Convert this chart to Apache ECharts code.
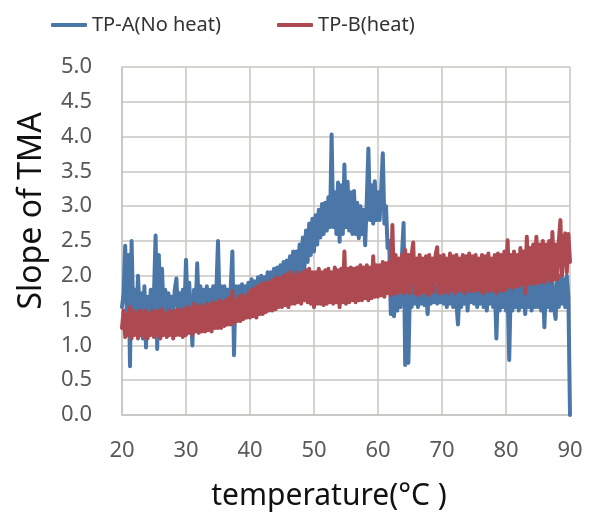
<!DOCTYPE html>
<html>
<head>
<meta charset="utf-8">
<script src="https://cdn.jsdelivr.net/npm/echarts@6/dist/echarts.min.js"></script>
<style>
html,body{margin:0;padding:0;background:#fff;}
#chart{width:592px;height:516px;}
</style>
</head>
<body>
<div id="chart"></div>
<script>
// Temperature sampling of the traces (°C)
var TEMP_START = 20;
var TEMP_STEP = 0.25;

var seriesNames = ['TP-A(No heat)', 'TP-B(heat)'];
var xTicks = [20, 30, 40, 50, 60, 70, 80, 90];
var yTicks = [0.0, 0.5, 1.0, 1.5, 2.0, 2.5, 3.0, 3.5, 4.0, 4.5, 5.0];

// TP-A (No heat) slope values, one row per 5 °C
var slopeA = [
  1.55,1.75,2.43,1.5,2.3,0.7,2.5,1.45,1.8,1.4,2.0,1.5,1.75,1.1,1.85,0.97,1.7,1.45,1.8,1.4,
  1.75,2.58,0.95,2.3,1.5,2.1,1.45,1.8,1.5,1.75,1.45,1.7,1.5,1.8,1.96,1.45,1.75,1.5,1.8,1.45,
  2.23,1.5,1.9,1.45,1.0,1.8,1.5,2.18,1.5,1.85,1.5,1.8,1.5,1.85,1.55,1.8,1.5,1.85,1.55,1.8,
  2.5,1.55,1.85,1.5,1.85,1.55,1.8,1.5,1.85,2.35,0.86,1.85,1.55,1.85,1.6,1.88,1.6,1.85,1.6,1.9,
  1.65,1.95,1.65,1.92,1.7,1.98,1.68,2.0,1.7,1.98,1.72,2.05,1.72,2.05,1.75,2.1,1.75,2.12,1.78,2.15,
  1.8,2.2,1.85,2.22,1.88,2.28,1.9,2.35,1.95,2.35,2.0,2.45,2.05,2.55,2.1,2.65,2.2,2.75,2.3,2.82,
  2.35,2.87,2.45,2.95,2.55,3.03,2.6,3.05,2.65,3.13,2.7,4.03,2.7,3.2,2.6,3.34,2.49,3.3,2.6,3.6,
  2.7,3.35,2.65,3.2,2.6,3.22,2.6,3.05,2.54,3.0,2.6,2.95,2.44,3.1,3.83,2.8,3.3,2.75,3.36,2.8,
  3.2,2.8,3.25,3.76,2.75,3.0,2.4,2.5,1.45,2.2,1.42,2.0,1.5,2.0,1.55,2.3,2.76,0.72,1.85,0.75,
  1.85,1.55,1.9,1.6,1.85,1.55,1.9,1.6,1.85,1.58,1.85,1.45,1.85,1.6,1.88,1.62,1.85,1.6,1.9,1.62,
  1.85,1.6,1.88,1.55,1.85,1.6,1.9,1.55,1.85,1.6,1.3,1.85,1.55,1.88,1.6,1.9,1.5,1.85,1.62,1.88,
  1.6,1.9,1.55,1.88,1.6,1.9,1.55,1.85,1.5,1.88,1.6,1.9,1.55,1.85,1.1,1.85,1.5,1.88,1.55,1.85,
  1.5,1.85,0.79,1.85,1.5,1.9,1.55,1.85,1.5,1.9,1.55,1.88,1.45,1.9,1.55,1.92,1.5,1.9,1.55,1.95,
  1.55,1.95,1.5,1.92,1.26,1.95,1.55,1.9,1.5,1.95,1.55,1.38,1.95,1.55,2.0,1.6,1.95,1.55,2.0,1.7,
  0.0
];

// TP-B (heat) slope values, one row per 5 °C
var slopeB = [
  1.25,1.5,1.12,1.45,1.15,1.55,1.1,1.5,1.15,1.45,1.1,1.5,1.15,1.48,1.12,1.5,1.1,1.45,1.15,1.5,
  1.12,1.48,1.15,1.5,1.1,1.52,1.15,1.45,1.12,1.5,1.15,1.48,1.1,1.5,1.15,1.52,1.15,1.5,1.12,1.52,
  1.15,1.55,1.18,1.52,1.15,1.6,1.2,1.55,1.18,1.58,1.2,1.55,1.2,1.6,1.22,1.58,1.2,1.62,1.25,1.6,
  1.25,1.65,1.25,1.62,1.28,1.65,1.3,1.68,1.3,1.78,1.32,1.65,1.35,1.7,1.35,1.72,1.38,1.7,1.4,1.75,
  1.4,1.8,1.42,1.82,1.4,1.85,1.45,1.88,1.45,1.9,1.48,1.9,1.5,1.92,1.5,1.95,1.52,1.98,1.55,1.95,
  1.55,2.0,1.58,2.02,1.55,2.05,1.6,2.0,1.6,2.05,1.62,2.02,1.6,2.05,1.65,2.08,1.62,2.1,1.6,2.05,
  1.55,2.05,1.6,2.1,1.6,2.05,1.58,2.08,1.6,2.1,1.62,2.05,1.6,2.12,1.62,2.08,1.55,2.1,1.62,2.35,
  1.6,2.1,1.62,2.12,1.65,2.1,1.62,2.12,1.65,2.15,1.65,2.12,1.68,2.15,1.65,2.12,1.68,2.28,1.7,2.15,
  1.7,2.15,1.72,2.2,1.7,2.18,1.75,2.2,1.72,2.73,1.75,2.3,1.75,2.25,1.78,2.3,1.75,2.37,1.78,2.3,
  1.75,2.3,2.48,1.75,2.25,1.72,2.3,1.75,2.25,1.78,2.28,1.72,2.3,1.75,2.25,1.78,2.3,2.41,1.75,2.28,
  1.75,2.3,1.78,2.25,1.75,2.32,1.8,2.28,1.75,2.3,1.78,2.25,1.8,2.3,1.75,2.28,1.8,2.32,1.78,2.28,
  1.78,2.3,1.8,2.25,1.78,2.3,1.75,2.28,1.8,2.32,1.78,2.25,1.8,2.3,1.75,2.32,1.8,2.3,1.78,2.35,
  1.8,2.51,1.85,2.3,1.82,2.35,1.85,2.3,1.85,2.4,1.88,2.35,1.75,2.56,1.88,2.4,1.9,2.45,1.88,2.56,
  1.9,2.45,1.92,2.5,1.9,2.45,1.95,2.5,1.92,2.63,1.95,2.45,1.95,2.5,2.8,2.0,2.5,2.61,2.05,2.6,
  2.2
];

function toPairs(vals) {
  return vals.map(function (v, i) { return [TEMP_START + i * TEMP_STEP, v]; });
}

var FONT = '"Noto Sans", sans-serif';
var GRID_COLOR = '#c9c5c1';
var COLOR_A = '#4a77a8';
var COLOR_B = '#ad4a51';

var chart = echarts.init(document.getElementById('chart'), null, {renderer: 'canvas'});
chart.setOption({
  animation: false,
  backgroundColor: '#ffffff',
  textStyle: {fontFamily: FONT},
  legend: {
    data: seriesNames,
    left: 46,
    top: 10,
    icon: 'roundRect',
    itemWidth: 36,
    itemHeight: 4,
    itemGap: 56,
    textStyle: {fontSize: 20, color: '#333333', fontFamily: FONT}
  },
  grid: {left: 122, top: 67, width: 448, height: 354, containLabel: false},
  xAxis: {
    type: 'value',
    min: xTicks[0],
    max: xTicks[xTicks.length - 1],
    interval: 10,
    name: 'temperature(°C )',
    nameLocation: 'middle',
    nameGap: 66,
    nameTextStyle: {fontSize: 30, color: '#111111', fontFamily: FONT, padding: [0, 34, 0, 0]},
    axisLine: {show: true, lineStyle: {color: GRID_COLOR, width: 1.5}},
    axisTick: {show: false},
    axisLabel: {fontSize: 22, color: '#595959', margin: 25, fontFamily: FONT},
    splitLine: {show: true, lineStyle: {color: GRID_COLOR, width: 1.5}}
  },
  yAxis: {
    type: 'value',
    min: yTicks[0],
    max: yTicks[yTicks.length - 1],
    interval: 0.5,
    name: 'Slope of TMA',
    nameLocation: 'middle',
    nameGap: 74,
    nameTextStyle: {fontSize: 32, color: '#111111', fontFamily: FONT, padding: [0, 0, 0, 60]},
    axisLine: {show: true, lineStyle: {color: GRID_COLOR, width: 1.5}},
    axisTick: {show: false},
    axisLabel: {fontSize: 22, color: '#595959', margin: 30, fontFamily: FONT,
      formatter: function (v) { return v.toFixed(1); }},
    splitLine: {show: true, lineStyle: {color: GRID_COLOR, width: 1.5}}
  },
  series: [
    {
      name: seriesNames[0], type: 'line', data: toPairs(slopeA),
      showSymbol: false, symbol: 'none', smooth: false,
      lineStyle: {color: COLOR_A, width: 4, join: 'round', cap: 'round'},
      itemStyle: {color: COLOR_A}
    },
    {
      name: seriesNames[1], type: 'line', data: toPairs(slopeB),
      showSymbol: false, symbol: 'none', smooth: false,
      lineStyle: {color: COLOR_B, width: 4, join: 'round', cap: 'round'},
      itemStyle: {color: COLOR_B}
    }
  ]
});
</script>
</body>
</html>
